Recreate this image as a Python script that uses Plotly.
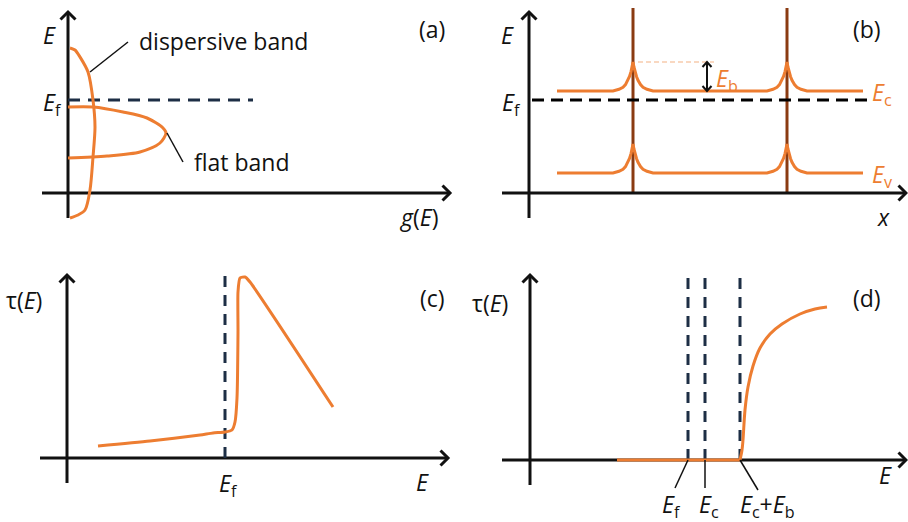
import plotly.graph_objects as go

# ---------------------------------------------------------------- style
ORANGE = "#ED7D31"
NAVY = "#1D2E45"
BROWN = "#8A3B12"
LIGHT = "#F4B183"
INK = "#111111"
FONT = "Open Sans"
FS = 23

W, H = 908, 522
UNIT = 10  # page pixels per schematic unit (same on both axes)

# page-pixel box (left, top, right, bottom) and axis-origin of each panel
PANELS = {
    "a": dict(box=(0, 0, 454, 230), origin=(68, 193)),
    "b": dict(box=(454, 0, 908, 230), origin=(529, 193)),
    "c": dict(box=(0, 260, 454, 522), origin=(67, 458)),
    "d": dict(box=(454, 260, 908, 522), origin=(530, 460)),
}

# ---------------------------------------------------------------- data
# (a) density of states g(E)
DISP_G = [0.2, 0.7, 1.2, 2.0, 2.5, 2.7, 2.5, 2.2, 1.7, 1.0, 0.2]
DISP_E = [14.5, 14.3, 13.6, 12.1, 9.3, 6.6, 3.6, 0.3, -1.7, -2.2, -2.5]
FLAT_G = [0.0, 2.5, 5.5, 7.9, 9.5, 9.8, 9.2, 7.2, 3.9, 0.0]
FLAT_E = [8.6, 8.6, 8.1, 7.5, 6.5, 6.0, 5.0, 4.1, 3.7, 3.5]
EF_A = 9.3
EF_A_END = 18.5

# (b) band edges across grain boundaries
GB_X = [10.4, 25.8]
GB_TOP = 18.5
BAND_X_START, BAND_X_END = 2.8, 33.4
EC_LEVEL = 10.2
EV_LEVEL = 2.0
EB_HEIGHT = 2.9
EF_B = 9.3
EF_B_SPAN = (0.3, 34.0)
# cusp profile of the barrier: distance from boundary vs. fraction of E_b
CUSP_DX = [0.0, 0.1, 0.2, 0.35, 0.5, 0.75, 1.0, 1.4, 2.0]
CUSP_FRAC = [1.0, 0.82, 0.67, 0.50, 0.37, 0.22, 0.13, 0.06, 0.0]

# (c) relaxation time, flat-band case
TAU_C_E = [3.1, 8.3, 13.3, 14.6, 15.8, 16.5, 16.8, 17.0, 17.1, 17.1, 17.3, 17.8, 18.3, 26.6]
TAU_C = [1.2, 1.7, 2.3, 2.5, 2.6, 2.8, 3.6, 6.0, 12.6, 16.6, 18.0, 18.1, 17.6, 5.1]
EF_C = 15.8

# (d) relaxation time, barrier-filtering case
TAU_D_FLAT = [8.7, 21.0]
TAU_D_E = [21.0, 21.2, 21.3, 21.5, 21.8, 22.3, 23.0, 24.0, 25.2, 27.0, 28.5, 29.7]
TAU_D = [0.0, 1.0, 2.0, 5.0, 7.3, 9.4, 11.2, 12.6, 13.6, 14.6, 15.1, 15.3]
D_MARKS = [15.8, 17.5, 21.0]
D_MARK_LABELS = ["<i>E</i><sub>f</sub>", "<i>E</i><sub>c</sub>",
                 "<i>E</i><sub>c</sub>+<i>E</i><sub>b</sub>"]
D_LEADER_END = [(14.5, -2.8), (17.5, -2.8), (22.8, -3.0)]
D_LABEL_X = [14.1, 17.9, 23.7]

# ---------------------------------------------------------------- figure
fig = go.Figure()
refs = {}
axes = {}
for i, (key, p) in enumerate(PANELS.items(), start=1):
    L, T, R, B = p["box"]
    ox, oy = p["origin"]
    xn = "x" if i == 1 else f"x{i}"
    yn = "y" if i == 1 else f"y{i}"
    refs[key] = (xn, yn)
    axes["xaxis" if i == 1 else f"xaxis{i}"] = dict(
        domain=[L / W, R / W], range=[(L - ox) / UNIT, (R - ox) / UNIT],
        visible=False, fixedrange=True, anchor=yn)
    axes["yaxis" if i == 1 else f"yaxis{i}"] = dict(
        domain=[1 - B / H, 1 - T / H], range=[(oy - B) / UNIT, (oy - T) / UNIT],
        visible=False, fixedrange=True, anchor=xn)


def line(panel, xs, ys, color, width=3, dash=None, shape="linear", smoothing=1.0):
    xr, yr = refs[panel]
    fig.add_trace(go.Scatter(
        x=xs, y=ys, mode="lines", xaxis=xr, yaxis=yr, hoverinfo="skip",
        line=dict(color=color, width=width, dash=dash, shape=shape,
                  smoothing=smoothing)))


def axis_arrow(panel, x0, y0, x1, y1, head=0.75, color=INK, width=3):
    line(panel, [x0, x1], [y0, y1], color, width)
    if y0 == y1:   # horizontal, pointing right
        hx, hy = [x1 - head, x1, x1 - head], [y1 + head, y1, y1 - head]
    else:          # vertical, pointing up
        hx, hy = [x1 - head, x1, x1 + head], [y1 - head, y1, y1 - head]
    line(panel, hx, hy, color, width)


def text(panel, x, y, s, color=INK, size=FS, xanchor="center", yanchor="middle"):
    xr, yr = refs[panel]
    fig.add_annotation(x=x, y=y, xref=xr, yref=yr, text=s, showarrow=False,
                       xanchor=xanchor, yanchor=yanchor,
                       font=dict(family=FONT, size=size, color=color))


# ----- (a)
axis_arrow("a", 0, -2.5, 0, 18.1)
axis_arrow("a", -2.6, 0, 38.2, 0)
line("a", [0, EF_A_END], [EF_A, EF_A], NAVY, 3, dash="12px,8px")
line("a", DISP_G, DISP_E, ORANGE, 3, shape="spline", smoothing=0.8)
line("a", FLAT_G, FLAT_E, ORANGE, 3, shape="spline", smoothing=0.8)
line("a", [2.2, 6.0], [12.1, 15.1], INK, 1.5)
line("a", [9.9, 11.5], [6.0, 3.1], INK, 1.5)
text("a", 6.9, 15.2, "dispersive band", xanchor="left")
text("a", 12.4, 3.1, "flat band", xanchor="left")
text("a", -1.9, 15.8, "<i>E</i>")
text("a", -0.4, 9.0, "<i>E</i><sub>f</sub>", xanchor="right")
text("a", 36.4, 16.4, "(a)")
text("a", 35.0, -2.4, "<i>g</i>(<i>E</i>)")

# ----- (b)
for gx in GB_X:
    line("b", [gx, gx], [0, GB_TOP], BROWN, 3)
axis_arrow("b", 0, -2.5, 0, 18.1)
axis_arrow("b", -2.7, 0, 37.7, 0)
line("b", list(EF_B_SPAN), [EF_B, EF_B], "#000000", 3, dash="12px,7px")


def band(level):
    xs, ys = [BAND_X_START], [level]
    for gx in GB_X:
        for dx, f in zip(reversed(CUSP_DX), reversed(CUSP_FRAC)):
            xs.append(gx - dx)
            ys.append(level + EB_HEIGHT * f)
        for dx, f in zip(CUSP_DX[1:], CUSP_FRAC[1:]):
            xs.append(gx + dx)
            ys.append(level + EB_HEIGHT * f)
    xs.append(BAND_X_END)
    ys.append(level)
    return xs, ys


for lev in (EC_LEVEL, EV_LEVEL):
    bx, by = band(lev)
    line("b", bx, by, ORANGE, 3)

line("b", [GB_X[0] + 0.5, 18.5], [EC_LEVEL + EB_HEIGHT] * 2, LIGHT, 1.2, dash="5px,3px")
ax_x = 17.8
line("b", [ax_x, ax_x], [EC_LEVEL + 0.05, EC_LEVEL + EB_HEIGHT - 0.05], INK, 2)
line("b", [ax_x - 0.45, ax_x, ax_x + 0.45],
     [EC_LEVEL + EB_HEIGHT - 0.5, EC_LEVEL + EB_HEIGHT, EC_LEVEL + EB_HEIGHT - 0.5], INK, 2)
line("b", [ax_x - 0.45, ax_x, ax_x + 0.45],
     [EC_LEVEL + 0.5, EC_LEVEL, EC_LEVEL + 0.5], INK, 2)
text("b", 18.5, 11.4, "<i>E</i><sub>b</sub>", color=ORANGE, xanchor="left")
text("b", 34.1, 10.0, "<i>E</i><sub>c</sub>", color=ORANGE, xanchor="left")
text("b", 34.1, 1.8, "<i>E</i><sub>v</sub>", color=ORANGE, xanchor="left")
text("b", -2.2, 15.8, "<i>E</i>")
text("b", -0.6, 9.0, "<i>E</i><sub>f</sub>", xanchor="right")
text("b", 33.8, 16.4, "(b)")
text("b", 35.4, -2.4, "<i>x</i>")

# ----- (c)
axis_arrow("c", 0, -2.5, 0, 18.3)
axis_arrow("c", -2.7, 0, 38.1, 0)
line("c", [EF_C, EF_C], [0, 18.5], NAVY, 3, dash="11px,8px")
line("c", TAU_C_E, TAU_C, ORANGE, 3, shape="spline", smoothing=0.6)
text("c", -6.3, 15.8, "τ(<i>E</i>)", xanchor="left")
text("c", 36.5, 16.0, "(c)")
text("c", 16.1, -2.6, "<i>E</i><sub>f</sub>")
text("c", 35.5, -2.4, "<i>E</i>")

# ----- (d)
axis_arrow("d", 0, -2.5, 0, 18.5)
axis_arrow("d", -2.8, 0, 37.6, 0)
for mx in D_MARKS:
    line("d", [mx, mx], [0, 18.5], NAVY, 3, dash="11px,8px")
line("d", TAU_D_FLAT, [0, 0], ORANGE, 3)
line("d", TAU_D_E, TAU_D, ORANGE, 3, shape="spline", smoothing=1.0)
for mx, (ex, ey), lx, lab in zip(D_MARKS, D_LEADER_END, D_LABEL_X, D_MARK_LABELS):
    line("d", [mx, ex], [0, ey], INK, 1.5)
    text("d", lx, -4.55, lab)
text("d", -4.0, 15.7, "τ(<i>E</i>)")
text("d", 33.7, 16.2, "(d)")
text("d", 35.5, -1.5, "<i>E</i>")

fig.update_layout(
    width=W, height=H, margin=dict(l=0, r=0, t=0, b=0),
    paper_bgcolor="white", plot_bgcolor="rgba(0,0,0,0)",
    showlegend=False, **axes)

fig.write_html("out.html", config=dict(displayModeBar=False, staticPlot=True))
